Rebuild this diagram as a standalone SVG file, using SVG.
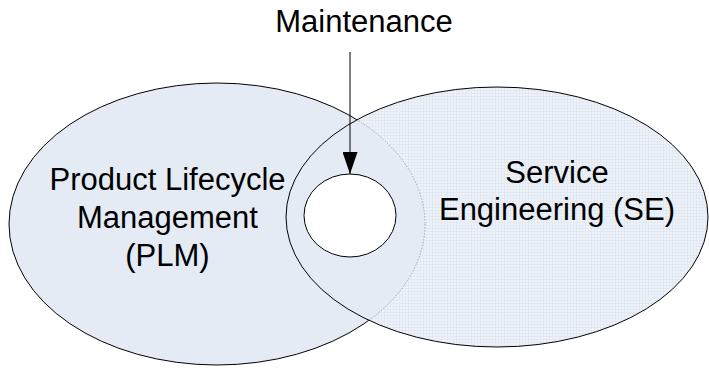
<svg xmlns="http://www.w3.org/2000/svg" width="709" height="369" viewBox="0 0 709 369">
<style>
text{font-family:"Liberation Sans",Arial,sans-serif;font-size:31px;fill:#000;text-anchor:middle}
.edge{fill:none;stroke:#000;stroke-width:1}
</style>
<defs>
<pattern id="grid" width="3" height="3" patternUnits="userSpaceOnUse">
<rect width="3" height="3" fill="#EEF2F9"/>
<path d="M0 0.5H3M0.5 0V3" stroke="#E3E9F3" stroke-width="1"/>
</pattern>
<clipPath id="outR"><path clip-rule="evenodd" d="M0 0H709V369H0Z M286 217a211 130 0 1 0 422 0a211 130 0 1 0 -422 0Z"/></clipPath>
<clipPath id="inR"><ellipse cx="497" cy="217" rx="211" ry="130"/></clipPath>
<marker id="ah" markerWidth="22" markerHeight="15" refX="22" refY="7.5" orient="auto" markerUnits="userSpaceOnUse" viewBox="0 0 22 15">
<path d="M0 0L22 7.5L0 15Z" fill="#000"/>
</marker>
</defs>
<g id="se-fill"><ellipse cx="497" cy="217" rx="211" ry="130" fill="url(#grid)"/></g>
<g id="plm">
<ellipse cx="217" cy="224" rx="208" ry="141" fill="#E4EBF5"/>
<ellipse cx="217" cy="224" rx="208" ry="141" class="edge" clip-path="url(#outR)"/>
<ellipse cx="217" cy="224" rx="208" ry="141" fill="none" stroke="#A0A4AA" stroke-width="1" stroke-dasharray="1.5 1.5" clip-path="url(#inR)"/>
<text x="167.5" y="190">Product Lifecycle</text>
<text x="167.5" y="228">Management</text>
<text x="167.5" y="266">(PLM)</text>
</g>
<g id="se">
<ellipse cx="497" cy="217" rx="211" ry="130" class="edge"/>
<text x="557" y="183">Service</text>
<text x="557" y="220">Engineering (SE)</text>
</g>
<g id="maintenance-node">
<ellipse cx="350" cy="215.5" rx="46" ry="41.5" fill="#fff" stroke="#000" stroke-width="1"/>
</g>
<g id="maintenance-label"><text x="364" y="32">Maintenance</text></g>
<g id="connectors">
<line x1="350" y1="52" x2="350" y2="174" stroke="#000" stroke-width="1" marker-end="url(#ah)"/>
</g>
</svg>
